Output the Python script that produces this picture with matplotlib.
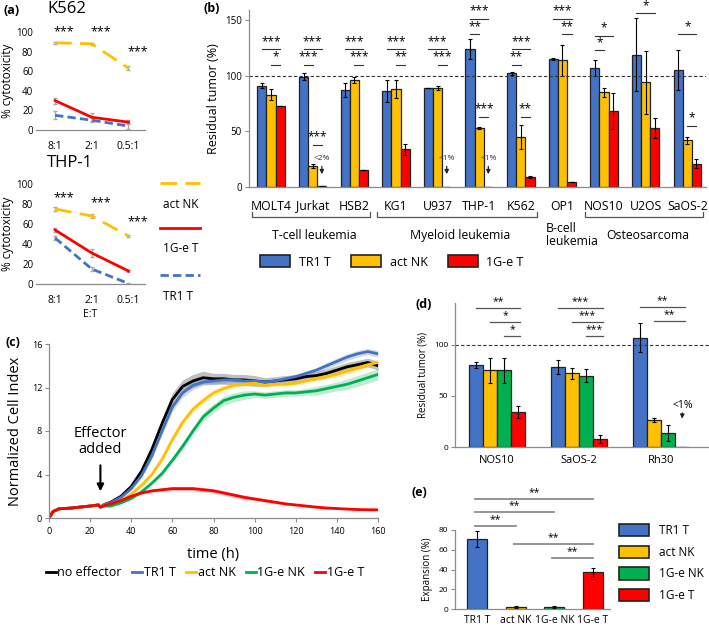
import matplotlib.pyplot as plt
import matplotlib.transforms as mtransforms
from matplotlib.lines import Line2D
from matplotlib.patches import Patch
import numpy as np

plt.rcParams['font.family'] = ['Open Sans', 'DejaVu Sans']

BLUE = '#4472C4'
ORANGE = '#FFC000'
RED = '#FF0000'
GREEN = '#00B050'
GREY = '#8c8c8c'
W, H = 709, 629

# ---- (a) cytotoxicity ----
ratios = ['8:1', '2:1', '0.5:1']
k562_nk = [89, 88, 63]
k562_nk_err = [1, 1, 2]
k562_1g = [30, 13, 8]
k562_1g_err = [3, 4, 2]
k562_tr1 = [15, 10, 4]
k562_tr1_err = [4, 2, 3]
k562_star_y = [100, 100, 80]
thp1_nk = [75, 68, 48]
thp1_nk_err = [2, 2, 1]
thp1_1g = [54, 31, 13]
thp1_1g_err = [2, 4, 1]
thp1_tr1 = [46, 15, 0.5]
thp1_tr1_err = [2, 2, 0.5]
thp1_star_y = [86, 81, 62]

# ---- (b) residual tumor ----
cell_lines = ['MOLT4', 'Jurkat', 'HSB2', 'KG1', 'U937', 'THP-1', 'K562', 'OP1', 'NOS10', 'U2OS', 'SaOS-2']
b_tr1 = [91, 99, 87, 86, 89, 124, 102, 115, 107, 119, 105]
b_tr1_err = [2, 3, 6, 10, 0, 9, 1, 1, 7, 33, 18]
b_nk = [83, 19, 96, 88, 89, 53, 45, 114, 85, 94, 42]
b_nk_err = [5, 2, 3, 8, 1.5, 1, 11, 14, 4, 28, 3]
b_1g = [73, 1, 15, 34, 0.3, 0.3, 9, 4.5, 68, 53, 21]
b_1g_err = [0, 0, 0, 5, 0, 0, 1, 0, 16, 9, 4]
b_sig = [(0, 0, 2, 124, '***'), (0, 1, 2, 110, '*'),
         (1, 0, 2, 124, '***'), (1, 0, 1, 110, '***'), (1, 1, 2, 38, '***'),
         (2, 0, 2, 124, '***'), (2, 1, 2, 110, '***'),
         (3, 0, 2, 124, '***'), (3, 1, 2, 110, '**'),
         (4, 0, 2, 124, '***'), (4, 1, 2, 110, '***'),
         (5, 0, 2, 151, '***'), (5, 0, 1, 137, '**'), (5, 1, 2, 63, '***'),
         (6, 0, 2, 124, '***'), (6, 0, 1, 110, '**'), (6, 1, 2, 63, '**'),
         (7, 0, 2, 151, '***'), (7, 1, 2, 137, '**'),
         (8, 0, 2, 136, '*'), (8, 0, 1, 123, '*'),
         (9, 0, 2, 156, '*'),
         (10, 0, 2, 137, '*'), (10, 1, 2, 55, '*')]
b_low = [(1, '<2%'), (4, '<1%'), (5, '<1%')]
b_groups = [(0, 2, 'T-cell leukemia'), (3, 6, 'Myeloid leukemia'), (8, 10, 'Osteosarcoma')]

# ---- (c) xCELLigence ----
time_h = [0, 2, 5, 10, 15, 20, 24, 25, 27, 30, 35, 40, 45, 50, 55, 60, 65, 70, 75, 80,
          85, 90, 95, 100, 105, 110, 115, 120, 125, 130, 135, 140, 145, 150, 155, 160]
ci_none = [0, 0.6, 0.85, 0.9, 1.0, 1.1, 1.2, 1.0, 1.25, 1.45, 2.0, 2.9, 4.3, 6.3, 8.7, 10.9, 12.1, 12.6,
           12.9, 12.8, 12.8, 12.7, 12.7, 12.6, 12.5, 12.6, 12.7, 12.8, 13.0, 13.1, 13.3, 13.6, 13.9, 14.1, 14.3, 14.0]
ci_tr1 = [0, 0.6, 0.85, 0.9, 1.0, 1.1, 1.2, 1.0, 1.25, 1.4, 1.9, 2.7, 3.9, 5.7, 8.0, 10.2, 11.5, 12.2,
          12.5, 12.6, 12.7, 12.7, 12.6, 12.6, 12.5, 12.6, 12.8, 13.0, 13.3, 13.6, 14.0, 14.4, 14.8, 15.1, 15.3, 15.1]
ci_nk = [0, 0.6, 0.85, 0.9, 1.0, 1.1, 1.2, 1.0, 1.15, 1.25, 1.6, 2.2, 3.0, 4.0, 5.4, 7.2, 8.8, 10.0,
         10.8, 11.5, 11.9, 12.2, 12.3, 12.4, 12.2, 12.3, 12.3, 12.4, 12.6, 12.8, 13.0, 13.2, 13.5, 13.8, 14.1, 14.3]
ci_1gnk = [0, 0.6, 0.85, 0.9, 1.0, 1.1, 1.2, 1.0, 1.1, 1.1, 1.4, 1.8, 2.4, 3.2, 4.1, 5.3, 6.6, 8.0,
           9.3, 10.1, 10.8, 11.1, 11.3, 11.4, 11.3, 11.4, 11.5, 11.5, 11.6, 11.7, 11.9, 12.1, 12.3, 12.6, 12.9, 13.2]
ci_1gt = [0, 0.6, 0.85, 0.9, 1.0, 1.1, 1.2, 1.0, 1.15, 1.3, 1.6, 2.0, 2.3, 2.5, 2.6, 2.7, 2.7, 2.7,
          2.6, 2.5, 2.3, 2.1, 1.9, 1.75, 1.6, 1.45, 1.3, 1.2, 1.1, 1.0, 0.92, 0.87, 0.82, 0.78, 0.76, 0.75]
sd_none = [0, 0, 0, 0, 0, 0, 0, 0, 0.05, 0.1, 0.15, 0.2, 0.3, 0.4, 0.5, 0.6, 0.6, 0.6,
           0.6, 0.5, 0.5, 0.5, 0.5, 0.5, 0.4, 0.4, 0.4, 0.4, 0.4, 0.4, 0.4, 0.4, 0.4, 0.4, 0.4, 0.4]
sd_tr1 = [0, 0, 0, 0, 0, 0, 0, 0, 0.05, 0.1, 0.1, 0.15, 0.2, 0.3, 0.3, 0.4, 0.4, 0.4,
          0.3, 0.3, 0.3, 0.2, 0.2, 0.2, 0.2, 0.2, 0.2, 0.2, 0.2, 0.2, 0.3, 0.3, 0.3, 0.3, 0.3, 0.3]
sd_nk = [0, 0, 0, 0, 0, 0, 0, 0, 0.05, 0.05, 0.1, 0.1, 0.15, 0.2, 0.2, 0.25, 0.3, 0.3,
         0.3, 0.3, 0.3, 0.2, 0.2, 0.2, 0.2, 0.2, 0.2, 0.2, 0.2, 0.2, 0.2, 0.3, 0.3, 0.3, 0.3, 0.3]
sd_1gnk = [0, 0, 0, 0, 0, 0, 0, 0, 0.05, 0.05, 0.1, 0.1, 0.15, 0.15, 0.2, 0.2, 0.3, 0.3,
           0.4, 0.4, 0.4, 0.4, 0.4, 0.3, 0.3, 0.3, 0.3, 0.3, 0.3, 0.4, 0.4, 0.4, 0.5, 0.5, 0.5, 0.5]
sd_1gt = [0, 0, 0, 0, 0, 0, 0, 0, 0.05, 0.05, 0.1, 0.1, 0.1, 0.15, 0.15, 0.2, 0.2, 0.2,
          0.2, 0.2, 0.2, 0.2, 0.2, 0.15, 0.15, 0.15, 0.1, 0.1, 0.1, 0.1, 0.1, 0.05, 0.05, 0.05, 0.05, 0.05]

# ---- (d) residual tumor, 4 effectors ----
d_lines = ['NOS10', 'SaOS-2', 'Rh30']
d_tr1 = [80, 78, 107]
d_tr1_err = [3, 7, 14]
d_nk = [75, 72, 26]
d_nk_err = [12, 5, 2]
d_1gnk = [75, 70, 14]
d_1gnk_err = [12, 6, 8]
d_1gt = [34, 8, 0.3]
d_1gt_err = [6, 4, 0]
d_sig = [(0, 0, 3, 136, '**'), (0, 1, 3, 122, '*'), (0, 2, 3, 109, '*'),
         (1, 0, 3, 136, '***'), (1, 1, 3, 122, '***'), (1, 2, 3, 109, '***'),
         (2, 0, 3, 137, '**'), (2, 1, 3, 123, '**')]

# ---- (e) expansion ----
e_labels = ['TR1 T', 'act NK', '1G-e NK', '1G-e T']
e_vals = [71, 2.5, 2.5, 37]
e_err = [8, 1, 1, 5]
e_sig = [(0, 3, 111, '**'), (0, 2, 98, '**'), (0, 1, 84, '**'), (1, 3, 66, '**'), (2, 3, 52, '**')]


def rect(l, t, r, b):
    # pixel box -> figure fraction
    return [l / W, 1 - b / H, (r - l) / W, (b - t) / H]


def style(ax, fs=7):
    for s in ['top', 'right']:
        ax.spines[s].set_visible(False)
    for s in ['left', 'bottom']:
        ax.spines[s].set_color(GREY)
        ax.spines[s].set_linewidth(0.9)
    ax.tick_params(axis='y', labelsize=fs, length=3, color=GREY, pad=2)
    ax.tick_params(axis='x', length=0)


fig = plt.figure(figsize=(W / 100, H / 100), dpi=100)

# (a) line plots
def cyto(ax, nk, nke, g, ge, tr, tre, stars):
    x = np.arange(len(ratios))
    ax.errorbar(x, nk, yerr=nke, color=ORANGE, lw=2, dashes=(6, 3), ecolor='#aaaaaa', elinewidth=1, capsize=1.5)
    ax.errorbar(x, g, yerr=ge, color=RED, lw=2, ecolor='#aaaaaa', elinewidth=1, capsize=1.5)
    ax.errorbar(x, tr, yerr=tre, color=BLUE, lw=2, dashes=(3, 1.5), ecolor='#aaaaaa', elinewidth=1, capsize=1.5)
    for i, y in enumerate(stars):
        ax.text(i + 0.25, y, '***', ha='center', va='center', fontsize=9, clip_on=False)
    ax.set_xlim(-0.52, 2.45)
    ax.set_ylim(0, 100)
    ax.set_yticks([0, 20, 40, 60, 80, 100])
    ax.set_xticks(x)
    ax.set_xticklabels(ratios, fontsize=7.5)
    ax.set_ylabel('% cytotoxicity', fontsize=8.5, labelpad=2)
    style(ax)
    ax.spines['left'].set_visible(False)
    ax.tick_params(axis='y', length=0)
    ax.tick_params(axis='x', pad=8)

ax_a1 = fig.add_axes(rect(36, 32, 145, 130))
cyto(ax_a1, k562_nk, k562_nk_err, k562_1g, k562_1g_err, k562_tr1, k562_tr1_err, k562_star_y)
ax_a2 = fig.add_axes(rect(36, 184, 145, 284))
cyto(ax_a2, thp1_nk, thp1_nk_err, thp1_1g, thp1_1g_err, thp1_tr1, thp1_tr1_err, thp1_star_y)
ax_a2.set_xlabel('E:T', fontsize=7.5, labelpad=2)

# (b) bars
ax_b = fig.add_axes(rect(249, 10, 706, 187))
xb = np.arange(len(cell_lines))
bw = 0.22
ek = dict(elinewidth=0.8, capsize=1.5, capthick=0.8, ecolor='black')
for off, vals, errs, col in [(-bw, b_tr1, b_tr1_err, BLUE), (0, b_nk, b_nk_err, ORANGE), (bw, b_1g, b_1g_err, RED)]:
    ax_b.bar(xb + off, vals, bw, yerr=errs, color=col, edgecolor='#222222', linewidth=0.9, error_kw=ek)
ax_b.axhline(100, color='#333333', lw=0.8, ls=(0, (3, 2)))
for g, i, j, y, s in b_sig:
    x0, x1 = g + (i - 1) * bw, g + (j - 1) * bw
    ax_b.plot([x0, x1], [y, y], color='#333333', lw=0.8, clip_on=False)
    ax_b.text((x0 + x1) / 2, y + 1, s, ha='center', va='bottom', fontsize=8.5, clip_on=False)
for g, s in b_low:
    ax_b.text(g + bw, 26, s, ha='center', va='center', fontsize=6, color='#333333')
    ax_b.annotate('', xy=(g + bw, 9), xytext=(g + bw, 21),
                  arrowprops=dict(arrowstyle='-|>', color='#222222', lw=0.9, mutation_scale=6))
ax_b.set_xlim(-0.53, 10.45)
ax_b.set_ylim(0, 159)
ax_b.set_yticks([0, 50, 100, 150])
ax_b.set_xticks(xb)
ax_b.set_xticklabels(cell_lines, fontsize=8.8)
ax_b.tick_params(axis='x', pad=9)
ax_b.set_ylabel('Residual tumor (%)', fontsize=9, labelpad=4)
style(ax_b)
tb = mtransforms.blended_transform_factory(ax_b.transData, ax_b.transAxes)
for i0, i1, lab in b_groups:
    x0, x1 = i0 - 0.45, i1 + 0.38
    ax_b.plot([x0, x0, x1, x1], [-0.14, -0.17, -0.17, -0.14], color='#555555', lw=0.9,
              transform=tb, clip_on=False)
    ax_b.text((i0 + i1) / 2 + 0.05, -0.275, lab, ha='center', va='center', fontsize=8.8, transform=tb)
ax_b.text(6.6, -0.27, 'B-cell\nleukemia', ha='left', va='center', fontsize=8.8, transform=tb, linespacing=1.0)
fig.legend(handles=[Patch(facecolor=c, edgecolor='#222222', lw=1.2, label=l)
                    for c, l in [(BLUE, 'TR1 T'), (ORANGE, 'act NK'), (RED, '1G-e T')]],
           loc='center', bbox_to_anchor=(392 / W, 1 - 262 / H), ncol=3, frameon=False, fontsize=9,
           handlelength=2.4, handleheight=1.1, columnspacing=1.6, handletextpad=0.7)

# (c) cell index curves
ax_c = fig.add_axes(rect(49, 344, 378, 518))
t = np.array(time_h)
for vals, sd, col, lab in [(ci_none, sd_none, 'black', 'no effector'), (ci_tr1, sd_tr1, BLUE, 'TR1 T'),
                           (ci_nk, sd_nk, ORANGE, 'act NK'), (ci_1gnk, sd_1gnk, GREEN, '1G-e NK'),
                           (ci_1gt, sd_1gt, RED, '1G-e T')]:
    v = np.array(vals)
    s = np.array(sd)
    ax_c.fill_between(t, v - s, v + s, color=col, alpha=0.25, lw=0)
    ax_c.plot(t, v, color=col, lw=2, label=lab)
ax_c.set_xlim(0, 160)
ax_c.set_ylim(0, 16)
ax_c.set_xticks(range(0, 161, 20))
ax_c.set_yticks([0, 4, 8, 12, 16])
ax_c.set_xlabel('time (h)', fontsize=10.5, labelpad=8)
ax_c.set_ylabel('Normalized Cell Index', fontsize=10.5, labelpad=6)
style(ax_c, 6.5)
ax_c.tick_params(axis='x', labelsize=6.5, length=3, color=GREY)
ax_c.text(25, 7.0, 'Effector\nadded', ha='center', va='center', fontsize=10.5, linespacing=1.1)
ax_c.annotate('', xy=(25, 2.2), xytext=(25, 5.1),
              arrowprops=dict(arrowstyle='-|>', color='black', lw=1.5, mutation_scale=10))
hc, lc = ax_c.get_legend_handles_labels()
fig.legend(hc, lc, loc='center', bbox_to_anchor=(205 / W, 1 - 573 / H), ncol=5, frameon=False,
           fontsize=9, handlelength=0.8, handletextpad=0.15, columnspacing=0.8)

# (d) bars
ax_d = fig.add_axes(rect(455, 303, 709, 447))
xd = np.arange(len(d_lines))
dw = 0.17
offs = [-1.5 * dw, -0.5 * dw, 0.5 * dw, 1.5 * dw]
for off, vals, errs, col in zip(offs, [d_tr1, d_nk, d_1gnk, d_1gt], [d_tr1_err, d_nk_err, d_1gnk_err, d_1gt_err],
                                [BLUE, ORANGE, GREEN, RED]):
    ax_d.bar(xd + off, vals, dw, yerr=errs, color=col, edgecolor='#222222', linewidth=0.9, error_kw=ek)
ax_d.axhline(100, color='#333333', lw=0.8, ls=(0, (3, 2)))
for g, i, j, y, s in d_sig:
    x0, x1 = g + offs[i], g + offs[j] + 0.03
    ax_d.plot([x0, x1], [y, y], color='#555555', lw=0.9, clip_on=False)
    ax_d.text((x0 + x1) / 2, y + 1, s, ha='center', va='bottom', fontsize=7.5, clip_on=False)
ax_d.text(2 + offs[3], 41, '<1%', ha='center', va='center', fontsize=7.5)
ax_d.annotate('', xy=(2 + offs[3], 25), xytext=(2 + offs[3], 36),
              arrowprops=dict(arrowstyle='-|>', color='#222222', lw=0.9, mutation_scale=6))
ax_d.set_xlim(-0.51, 2.58)
ax_d.set_ylim(0, 141)
ax_d.set_yticks([0, 50, 100])
ax_d.set_xticks(xd)
ax_d.set_xticklabels(d_lines, fontsize=8)
ax_d.tick_params(axis='x', pad=6)
ax_d.set_ylabel('Residual tumor (%)', fontsize=7, labelpad=4)
style(ax_d, 6)

# (e) bars
ax_e = fig.add_axes(rect(455, 530, 610, 609))
xe = np.arange(len(e_labels))
ax_e.bar(xe, e_vals, 0.52, yerr=e_err, color=[BLUE, ORANGE, GREEN, RED], edgecolor='#222222',
         linewidth=0.9, error_kw=ek)
for i, j, y, s in e_sig:
    x0, x1 = i - 0.05, j
    ax_e.plot([x0, x1], [y, y], color=GREY, lw=1.3, clip_on=False)
    ax_e.text((x0 + x1) / 2, y + 1, s, ha='center', va='bottom', fontsize=7.5, clip_on=False)
ax_e.set_xlim(-0.57, 3.44)
ax_e.set_ylim(0, 80)
ax_e.set_yticks([0, 20, 40, 60, 80])
ax_e.set_xticks(xe)
ax_e.set_xticklabels(e_labels, fontsize=7.5)
ax_e.tick_params(axis='x', pad=4)
ax_e.set_ylabel('Expansion (%)', fontsize=7, labelpad=4)
style(ax_e, 6)
fig.legend(handles=[Patch(facecolor=c, edgecolor='#222222', lw=1.2, label=l)
                    for c, l in zip([BLUE, ORANGE, GREEN, RED], e_labels)],
           loc='upper left', bbox_to_anchor=(608 / W, 1 - 513 / H), ncol=1, frameon=False, fontsize=8.5,
           handlelength=2.6, handleheight=1.2, labelspacing=0.75, handletextpad=0.8)

# overlay for panel letters, titles and the (a) legend
ov = fig.add_axes([0, 0, 1, 1])
ov.set_xlim(0, W)
ov.set_ylim(H, 0)
ov.axis('off')
ov.text(67, 9, 'K562', ha='center', va='center', fontsize=12)
ov.text(70, 163, 'THP-1', ha='center', va='center', fontsize=12)
for x, y, s in [(3, 10, '(a)'), (203, 8, '(b)'), (5, 342, '(c)'), (416, 305, '(d)'), (412, 492, '(e)')]:
    ov.text(x, y, s, ha='left', va='center', fontsize=9, fontweight='bold')
for y, col, dash, lab in [(183, ORANGE, (6, 3), 'act NK'), (228, RED, None, '1G-e T'), (275, BLUE, (3, 1.5), 'TR1 T')]:
    ln = Line2D([160, 200], [y, y], color=col, lw=2)
    if dash:
        ln.set_dashes(dash)
    ov.add_line(ln)
    ov.text(163, y + 21, lab, ha='left', va='center', fontsize=8.5)

fig.savefig('out.png', dpi=100)
